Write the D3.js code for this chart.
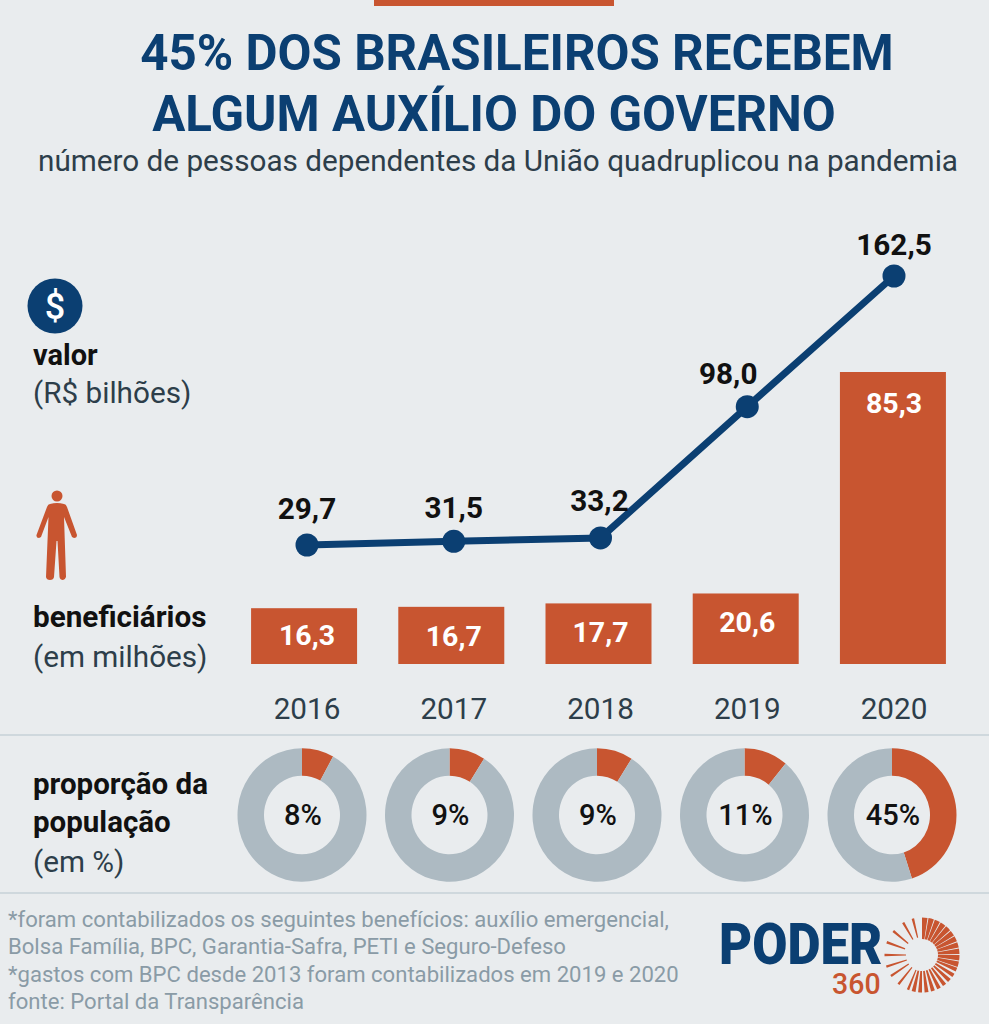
<!DOCTYPE html>
<html>
<head>
<meta charset="utf-8">
<script src="https://cdn.jsdelivr.net/npm/d3@7"></script>
<style>
html, body { margin: 0; padding: 0; background: #e9ecee; }
svg { display: block; font-family: Roboto, sans-serif; }
</style>
</head>
<body>
<div id="viz"></div>
<script>
var years = ["2016", "2017", "2018", "2019", "2020"];
var valor = [29.7, 31.5, 33.2, 98.0, 162.5];
var beneficiarios = [16.3, 16.7, 17.7, 20.6, 85.3];
var proporcao = [8, 9, 9, 11, 45];
var footnotes = [
  "*foram contabilizados os seguintes benefícios: auxílio emergencial,",
  "Bolsa Família, BPC, Garantia-Safra, PETI e Seguro-Defeso",
  "*gastos com BPC desde 2013 foram contabilizados em 2019 e 2020",
  "fonte: Portal da Transparência"
];

var blue = "#0b3f72";
var orange = "#c85530";
var grey = "#adbac2";
var dark = "#2d3e4a";
var fmt = function (d) { return d.toFixed(1).replace(".", ","); };

var svg = d3.select("#viz").append("svg")
  .attr("width", 989)
  .attr("height", 1024);

svg.append("rect").attr("width", 989).attr("height", 1024).attr("fill", "#e9ecee");
svg.append("rect").attr("x", 374).attr("y", 0).attr("width", 240).attr("height", 6).attr("fill", orange);

function label(x, y, txt, size, weight, colour, anchor) {
  return svg.append("text")
    .attr("x", x).attr("y", y)
    .attr("font-size", size)
    .attr("font-weight", weight)
    .attr("fill", colour)
    .attr("text-anchor", anchor || "start")
    .text(txt);
}

// title
label(517, 70, "45% DOS BRASILEIROS RECEBEM", 49.3, 700, blue, "middle");
label(494, 131, "ALGUM AUXÍLIO DO GOVERNO", 49.3, 700, blue, "middle");
label(498, 171, "número de pessoas dependentes da União quadruplicou na pandemia", 29.7, 400, dark, "middle");

// scales
var xBar = d3.scaleBand().domain(years).range([229, 968]).paddingInner(0.28).paddingOuter(0.15);
var xLine = d3.scalePoint().domain(years).range([307, 894]);
var xPie = d3.scalePoint().domain(years).range([302, 892]);
var yLine = d3.scaleLinear().domain([29.7, 162.5]).range([545, 276]);
var yBar = d3.scaleLinear().domain([0, 85.3]).range([664, 372]);

// bars
svg.selectAll("rect.bar").data(years).enter().append("rect")
  .attr("class", "bar")
  .attr("x", function (d) { return xBar(d); })
  .attr("y", function (d, i) { return yBar(beneficiarios[i]); })
  .attr("width", xBar.bandwidth())
  .attr("height", function (d, i) { return yBar(0) - yBar(beneficiarios[i]); })
  .attr("fill", orange);

svg.selectAll("text.barval").data(years).enter().append("text")
  .attr("class", "barval")
  .attr("x", function (d) { return xLine(d); })
  .attr("y", function (d, i) { return yBar(beneficiarios[i]) + (i == 4 ? 41 : i == 0 ? 37 : 39); })
  .attr("text-anchor", "middle")
  .attr("font-size", 28.5).attr("font-weight", 700).attr("fill", "#fff")
  .text(function (d, i) { return fmt(beneficiarios[i]); });

// line
var line = d3.line()
  .x(function (d, i) { return xLine(years[i]); })
  .y(function (d) { return yLine(d); });

svg.append("path")
  .attr("d", line(valor))
  .attr("fill", "none")
  .attr("stroke", blue)
  .attr("stroke-width", 7);

svg.selectAll("circle.pt").data(valor).enter().append("circle")
  .attr("class", "pt")
  .attr("cx", function (d, i) { return xLine(years[i]); })
  .attr("cy", function (d) { return yLine(d); })
  .attr("r", 11.5)
  .attr("fill", blue);

svg.selectAll("text.lineval").data(valor).enter().append("text")
  .attr("class", "lineval")
  .attr("x", function (d, i) { return xLine(years[i]) + (i == 3 ? -19 : i == 2 ? -1 : 0); })
  .attr("y", function (d, i) { return yLine(d) - (i == 4 ? 21 : i == 1 ? 23 : i == 2 ? 27 : i == 3 ? 23 : 26); })
  .attr("text-anchor", "middle")
  .attr("font-size", 29.7).attr("font-weight", 700).attr("fill", "#111")
  .text(fmt);

// years
svg.selectAll("text.year").data(years).enter().append("text")
  .attr("class", "year")
  .attr("x", function (d) { return xLine(d); })
  .attr("y", 719)
  .attr("text-anchor", "middle")
  .attr("font-size", 29.7).attr("fill", dark)
  .text(function (d) { return d; });

// separators
svg.append("line").attr("x1", 0).attr("x2", 989).attr("y1", 735).attr("y2", 735).attr("stroke", "#cfd8dd").attr("stroke-width", 2);
svg.append("line").attr("x1", 0).attr("x2", 989).attr("y1", 893).attr("y2", 893).attr("stroke", "#cfd8dd").attr("stroke-width", 2);

// donuts, a little taller than wide like the original
var arc = d3.arc().innerRadius(38).outerRadius(64.5);
var pie = d3.pie().sort(null);

years.forEach(function (y, i) {
  var g = svg.append("g").attr("transform", "translate(" + xPie(y) + ",815)");
  g.append("g").attr("transform", "scale(1,1.035)")
    .selectAll("path").data(pie([proporcao[i], 100 - proporcao[i]])).enter().append("path")
    .attr("d", arc)
    .attr("fill", function (d, j) { return j == 0 ? orange : grey; });
  g.append("text")
    .attr("x", 1)
    .attr("y", 9.5)
    .attr("text-anchor", "middle")
    .attr("font-size", 29).attr("font-weight", 500).attr("fill", "#111")
    .text(proporcao[i] + "%");
});

// left column
svg.append("circle").attr("cx", 55).attr("cy", 306).attr("r", 27.5).attr("fill", blue);
label(55, 319, "$", 36, 500, "#fff", "middle");
label(33, 365, "valor", 29, 700, "#111");
label(33, 403, "(R$ bilhões)", 29.7, 400, dark);

// person icon
var person = svg.append("g").attr("fill", orange);
person.append("circle").attr("cx", 57).attr("cy", 496).attr("r", 5.5);
person.append("path").attr("d", "M50 504 Q57 502 64 504 Q66 504 67 507 L77 535 Q77 538 74 538 L72 537 L64 517 L66 577 Q65 580 63 580 Q60 580 59.500 577 L57.500 541 L56.500 541 L54 577 Q53.500 580 50 580 Q46.500 580 46 577 L48.500 517 L41 537 L39 538 Q36 538 36.500 535 L47 507 Q48 504 50 504 Z");

label(33, 627, "beneficiários", 29.7, 700, "#111");
label(33, 667, "(em milhões)", 29.7, 400, dark);
label(33, 794, "proporção da", 29.5, 700, "#111");
label(33, 832, "população", 29.5, 700, "#111");
label(33, 872, "(em %)", 29.7, 400, dark);

// footnotes
svg.selectAll("text.foot").data(footnotes).enter().append("text")
  .attr("class", "foot")
  .attr("x", 8)
  .attr("y", function (d, i) { return 927 + i * 27.3; })
  .attr("font-size", 22.1).attr("fill", "#8a9ba6")
  .text(function (d) { return d; });

// logo
svg.append("text")
  .attr("transform", "translate(719,964) scale(0.88,1)")
  .attr("font-size", 58).attr("font-weight", 900).attr("fill", blue)
  .text("PODER");
svg.append("text")
  .attr("transform", "translate(832,994) scale(0.95,1)")
  .attr("font-size", 30).attr("font-weight", 500).attr("fill", orange)
  .text("360");

// logo sun: wide rays from the top round to the bottom, thin ones up the left side
var sun = svg.append("g").attr("transform", "translate(922,955)");
var rayAngles = d3.range(0, 200, 10).concat([200, 217, 234, 250, 268, 288, 308, 328, 344]);
rayAngles.forEach(function (a) {
  var w = a < 110 ? 8.5 : a < 200 ? 6 : 3.8;
  var t = a / 180 * Math.PI;
  sun.append("path")
    .attr("d", d3.arc().innerRadius(a > 280 ? 18 : 16).outerRadius(37.5).startAngle(t).endAngle(t + w / 180 * Math.PI)())
    .attr("fill", orange);
});
</script>
</body>
</html>
